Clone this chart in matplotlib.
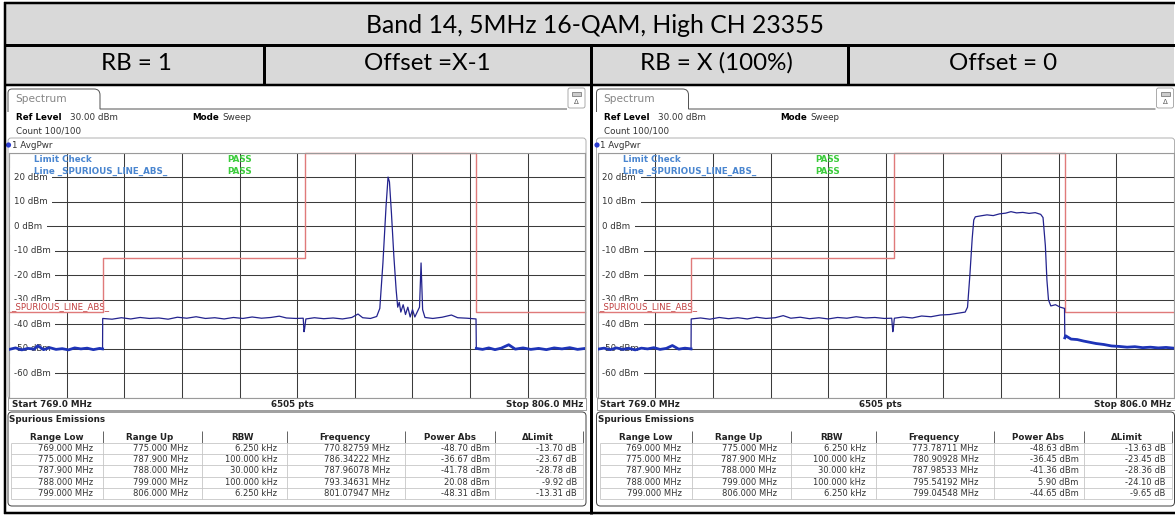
import matplotlib
matplotlib.use("Agg")
import matplotlib.pyplot as plt
import numpy as np
from matplotlib.patches import Rectangle, FancyBboxPatch, PathPatch, Circle
from matplotlib.path import Path

# ---------------- data ----------------
title = "Band 14, 5MHz 16-QAM, High CH 23355"
header_labels = ["RB = 1", "Offset =X-1", "RB = X (100%)", "Offset = 0"]

start_mhz, stop_mhz = 769.0, 806.0
ref_level = 30.0
bottom_level = -70.0
level_labels = [20, 10, 0, -10, -20, -30, -40, -50, -60]
sweep_points = 6505

range_low = [769.0, 775.0, 787.9, 788.0, 799.0]
range_up = [775.0, 787.9, 788.0, 799.0, 806.0]
rbw_khz = [6.25, 100.0, 30.0, 100.0, 6.25]
limit_dbm = [-35, -13, -13, 30, -35]

left_peak_freq = [770.82759, 786.34222, 787.96078, 793.34631, 801.07947]
left_peak_power = [-48.70, -36.67, -41.78, 20.08, -48.31]
left_delta = [-13.70, -23.67, -28.78, -9.92, -13.31]

right_peak_freq = [773.78711, 780.90928, 787.98533, 795.54192, 799.04548]
right_peak_power = [-48.63, -36.45, -41.36, 5.90, -44.65]
right_delta = [-13.63, -23.45, -28.36, -24.10, -9.65]

left_trace_freq = [769.0, 769.4, 769.8, 770.2, 770.6, 770.83, 771.2, 771.6, 772.0, 772.4,
                   772.8, 773.2, 773.6, 774.0, 774.4, 774.8, 774.99,
                   775.0, 775.6, 776.2, 776.8, 777.4, 778.0, 778.6, 779.2, 779.8, 780.4,
                   781.0, 781.6, 782.2, 782.8, 783.4, 784.0, 784.6, 785.2, 785.8, 786.34,
                   786.8, 787.4, 787.88, 787.93, 787.97, 788.05, 788.6, 789.2, 789.8, 790.4,
                   791.0, 791.4, 791.7, 792.2, 792.6, 792.8, 793.0, 793.2, 793.33, 793.42,
                   793.55, 793.7, 793.85, 793.95, 794.05, 794.15, 794.3, 794.45, 794.6, 794.75,
                   794.9, 795.05, 795.2, 795.35, 795.45, 795.55, 795.7, 796.2, 796.8, 797.4,
                   797.8, 798.4, 798.98,
                   799.0, 799.4, 799.8, 800.2, 800.6, 801.08, 801.5, 802.0, 802.5, 803.0,
                   803.5, 804.0, 804.5, 805.0, 805.5, 806.0]
left_trace_dbm = [-50.2, -49.6, -50.4, -49.8, -50.1, -48.7, -50.3, -49.5, -50.2, -49.9,
                  -50.4, -49.6, -50.0, -49.7, -50.3, -49.8, -50.0,
                  -37.6, -37.9, -37.3, -37.8, -37.2, -37.6, -37.4, -37.9, -37.1, -37.5,
                  -36.9, -37.6, -37.3, -37.8, -37.2, -37.6, -37.0, -37.5, -37.2, -36.67,
                  -37.4, -37.6, -37.5, -43.0, -41.8, -37.8, -37.3, -37.7, -37.4, -37.8,
                  -37.2, -35.8, -37.3, -37.6, -36.8, -33.5, -15.0, 8.0, 20.0, 18.0,
                  5.0, -12.0, -26.0, -33.0, -31.0, -35.0, -32.0, -36.0, -33.0, -37.0,
                  -34.0, -37.0, -35.0, -33.0, -15.0, -34.0, -37.2, -37.6, -37.1, -36.2,
                  -37.3, -37.5, -37.8,
                  -49.8, -50.2, -49.6, -50.3, -49.7, -48.31, -50.1, -49.6, -50.2, -49.8,
                  -50.3, -49.6, -50.0, -49.5, -50.2, -49.8]

right_trace_freq = [769.0, 769.4, 769.8, 770.2, 770.6, 771.0, 771.4, 771.8, 772.2, 772.6,
                    773.0, 773.4, 773.79, 774.2, 774.6, 774.99,
                    775.0, 775.6, 776.2, 776.8, 777.4, 778.0, 778.6, 779.2, 779.8, 780.4,
                    780.91, 781.4, 782.0, 782.6, 783.2, 783.8, 784.4, 785.0, 785.6, 786.2,
                    786.8, 787.4, 787.88, 787.95, 787.99, 788.05, 788.6, 789.2, 789.8, 790.4,
                    791.0, 791.6, 792.2, 792.6, 792.75, 792.9, 793.05, 793.15, 793.25, 793.6,
                    794.0, 794.4, 794.8, 795.2, 795.54, 795.9, 796.3, 796.7, 797.1, 797.45,
                    797.6, 797.75, 797.85, 797.95, 798.1, 798.4, 798.7, 798.98,
                    799.0, 799.05, 799.4, 799.8, 800.2, 800.6, 801.0, 801.5, 802.0, 802.5,
                    803.0, 803.5, 804.0, 804.5, 805.0, 805.5, 806.0]
right_trace_dbm = [-50.1, -49.7, -50.3, -49.6, -50.2, -49.8, -50.4, -49.7, -50.0, -49.5,
                   -50.2, -49.8, -48.63, -50.1, -49.7, -50.0,
                   -37.8, -37.4, -37.9, -37.2, -37.7, -37.3, -37.8, -37.1, -37.6, -37.3,
                   -36.45, -37.5, -37.1, -37.7, -37.3, -37.8, -37.2, -37.5, -36.9, -37.4,
                   -37.2, -37.6, -37.5, -43.0, -41.4, -37.5, -37.0, -37.4, -36.6, -36.9,
                   -36.2, -36.0, -35.4, -35.0, -33.0, -20.0, -5.0, 2.5, 3.8, 4.2,
                   4.6, 4.3, 5.0, 5.3, 5.9, 5.4, 5.6, 5.2, 5.5, 4.8,
                   3.5, -8.0, -22.0, -30.0, -32.5, -32.0, -33.0, -33.5,
                   -45.5, -44.65, -46.0, -46.2, -46.8, -47.3, -47.8, -48.2, -48.8, -49.0,
                   -49.3, -49.1, -49.5, -49.3, -49.6, -49.4, -49.7]

# ---------------- figure ----------------
W, H = 1175, 516
fig = plt.figure(figsize=(W / 100, H / 100), dpi=100)
bg = fig.add_axes([0, 0, 1, 1])
bg.set_xlim(0, W)
bg.set_ylim(H, 0)
bg.axis("off")

PX = 0.72  # points per pixel
HEAD_FONT = "Lato"
UI = "DejaVu Sans"
TRACE = "#23238e"
TRACE_THICK = "#1e34b8"
LIMIT = "#e07a7a"
GRID = "#3c3c3c"


def px_axes(x0, y0, x1, y1):
    return fig.add_axes([x0 / W, 1 - y1 / H, (x1 - x0) / W, (y1 - y0) / H])


def line(xs, ys, lw=1.0, color="black", **kw):
    bg.plot(xs, ys, color=color, lw=lw * PX, solid_capstyle="butt", **kw)


# document table
GRAY = "#d9d9d9"
bg.add_patch(Rectangle((5, 3), 1169, 42, fc=GRAY, ec="none"))
bg.add_patch(Rectangle((5, 45), 1169, 40, fc=GRAY, ec="none"))
line([4, 1175], [3, 3], 2.5)
line([4, 1175], [45, 45], 3)
line([4, 1175], [85, 85], 2.5)
line([4, 1175], [513, 513], 2.5)
line([5, 5], [2, 514], 2.5)
line([264, 264], [45, 85], 3)
line([848, 848], [45, 85], 3)
line([591, 591], [45, 514], 3)

bg.text(595, 33, title, fontsize=17.8, family=HEAD_FONT, ha="center", va="baseline")
for cx, lab in zip([136, 427, 716, 1003], header_labels):
    bg.text(cx, 70, lab, fontsize=17.4, family=HEAD_FONT, ha="center", va="baseline")


def draw_panel(L, tf, td, pf, pp, dl):
    R = L + 578
    fs = 6.3
    # tab
    verts = [(L, 112), (L, 93), (L, 89), (L + 4, 89), (L + 86, 89), (L + 92, 89),
             (L + 92, 95), (L + 92, 109), (R - 19, 109)]
    codes = [Path.MOVETO, Path.LINETO, Path.CURVE3, Path.CURVE3, Path.LINETO,
             Path.CURVE3, Path.CURVE3, Path.LINETO, Path.LINETO]
    bg.add_patch(PathPatch(Path(verts, codes), fc="none", ec="#555555", lw=1.0 * PX))
    bg.text(L + 7, 99, "Spectrum", fontsize=7.6, family=UI, color="#858585", va="center")
    # icon
    bg.add_patch(FancyBboxPatch((R - 18, 88), 17, 20, boxstyle="round,pad=0,rounding_size=2",
                                fc="white", ec="#999999", lw=0.8 * PX))
    bg.add_patch(Rectangle((R - 14, 92), 9, 3.5, fc="#cccccc", ec="#555555", lw=0.6 * PX))
    bg.text(R - 9.5, 102.5, "Δ", fontsize=5, family=UI, ha="center", va="center", color="#555555")
    # header info
    bg.text(L + 8, 118, "Ref Level", fontsize=fs, family=UI, weight="bold", va="center")
    bg.text(L + 62, 118, "30.00 dBm", fontsize=fs, family=UI, va="center", color="#333333")
    bg.text(L + 184, 118, "Mode", fontsize=fs, family=UI, weight="bold", va="center")
    bg.text(L + 214, 118, "Sweep", fontsize=fs, family=UI, va="center", color="#333333")
    bg.text(L + 8, 131, "Count 100/100", fontsize=fs, family=UI, va="center", color="#333333")
    # trace box
    bg.add_patch(FancyBboxPatch((L, 138), 578, 261, boxstyle="round,pad=0,rounding_size=3",
                                fc="white", ec="#aaaaaa", lw=0.9 * PX))
    bg.add_patch(Circle((L + 0.5, 145), 2.6, fc="#2a3bd0", ec="none"))
    bg.text(L + 4, 145, "1 AvgPwr", fontsize=fs, family=UI, va="center", color="#333333")

    # ---- spectrum plot ----
    ax = px_axes(L + 1.3, 152.5, L + 577.3, 398)
    ax.set_xlim(start_mhz, stop_mhz)
    ax.set_ylim(bottom_level, ref_level)
    ax.set_xticks(np.linspace(start_mhz, stop_mhz, 11))
    ax.set_yticks(np.arange(bottom_level, ref_level + 1, 10))
    ax.tick_params(length=0, labelbottom=False, labelleft=False)
    ax.grid(True, color=GRID, lw=0.75, zorder=0.5)
    ax.set_axisbelow(True)
    for s in ax.spines.values():
        s.set_color("#9a9a9a")
        s.set_linewidth(0.8)
    ytr = ax.get_yaxis_transform()
    for v in level_labels:
        ax.text(0.008, v, f"{v} dBm", transform=ytr, fontsize=6.2, family=UI, color="#333333",
                va="center", ha="left", zorder=1.5,
                bbox=dict(fc="white", ec="none", pad=3.2))
    # limit line built from ranges
    lf, ld = [], []
    for lo, hi, lv in zip(range_low, range_up, limit_dbm):
        lf += [lo, hi]
        ld += [lv, lv]
    ax.plot(lf, ld, color=LIMIT, lw=1.0, zorder=2, clip_on=False)
    ax.text(0.003, -32.8, "_SPURIOUS_LINE_ABS_", transform=ytr, fontsize=6.2, family=UI,
            color="#c04040", va="center", ha="left", zorder=1.8,
            bbox=dict(fc="white", ec="none", pad=0.6))
    # limit check texts
    ax.text(0.043, 27.3, "Limit Check", transform=ytr, fontsize=6.3, family=UI,
            weight="bold", color="#4a86d0", va="center", zorder=1.6)
    ax.text(0.043, 22.4, "Line _SPURIOUS_LINE_ABS_", transform=ytr, fontsize=6.3, family=UI,
            weight="bold", color="#4a86d0", va="center", zorder=1.6)
    for yv in (27.3, 22.4):
        ax.text(0.378, yv, "PASS", transform=ytr, fontsize=6.3, family=UI,
                weight="bold", color="#3ccc3c", va="center", zorder=1.6)
    # trace
    f = np.array(tf)
    d = np.array(td)
    ax.plot(f, d, color=TRACE, lw=0.9, zorder=3)
    lo_mask = f < range_up[0]
    hi_mask = f >= range_low[-1]
    ax.plot(f[lo_mask], d[lo_mask], color=TRACE_THICK, lw=2.0, zorder=3.1)
    ax.plot(f[hi_mask], d[hi_mask], color=TRACE_THICK, lw=2.0, zorder=3.1)

    # ---- bottom bar ----
    bg.add_patch(Rectangle((L, 398), 578, 12, fc="white", ec="#888888", lw=0.8 * PX))
    bg.text(L + 4, 404.5, f"Start {start_mhz:.1f} MHz", fontsize=fs, family=UI,
            weight="bold", va="center", color="#222222")
    bg.text(L + 284, 404.5, f"{sweep_points} pts", fontsize=fs, family=UI,
            weight="bold", va="center", ha="center", color="#222222")
    bg.text(R - 3, 404.5, f"Stop {stop_mhz:.1f} MHz", fontsize=fs, family=UI,
            weight="bold", va="center", ha="right", color="#222222")

    # ---- spurious emissions table ----
    bg.add_patch(FancyBboxPatch((L, 412), 578, 94, boxstyle="round,pad=0,rounding_size=4",
                                fc="white", ec="#444444", lw=1.0 * PX))
    bg.text(L + 1, 420, "Spurious Emissions", fontsize=fs, family=UI, weight="bold",
            va="center", color="#222222")
    cols = [3, 95, 194, 279, 397, 487, 575]
    heads = ["Range Low", "Range Up", "RBW", "Frequency", "Power Abs", "ΔLimit"]
    head_cx = [49, 142, 235, 337, 442, 530]
    right_x = [85, 180, 269, 382, 482, 569]
    for cx, h in zip(head_cx, heads):
        bg.text(L + cx, 437, h, fontsize=fs, family=UI, weight="bold", ha="center",
                va="center", color="#222222")
    for c in cols[1:]:
        line([L + c, L + c], [431, 443], 1.0, color="#666666")
    row_edges = [443, 454, 465.3, 476.6, 487.9, 499.2]
    for y in row_edges:
        line([L + cols[0], L + cols[-1]], [y, y], 0.8, color="#c4c4c4")
    for c in cols:
        line([L + c, L + c], [row_edges[0], row_edges[-1]], 0.8, color="#c4c4c4")
    for i in range(5):
        yc = (row_edges[i] + row_edges[i + 1]) / 2
        vals = [f"{range_low[i]:.3f} MHz", f"{range_up[i]:.3f} MHz", f"{rbw_khz[i]:.3f} kHz",
                f"{pf[i]:.5f} MHz", f"{pp[i]:.2f} dBm", f"{dl[i]:.2f} dB"]
        for rx, v in zip(right_x, vals):
            bg.text(L + rx, yc, v, fontsize=6.0, family=UI, ha="right", va="center",
                    color="#333333")


draw_panel(8, left_trace_freq, left_trace_dbm, left_peak_freq, left_peak_power, left_delta)
draw_panel(596.5, right_trace_freq, right_trace_dbm, right_peak_freq, right_peak_power, right_delta)

fig.savefig("out.png", dpi=100)
